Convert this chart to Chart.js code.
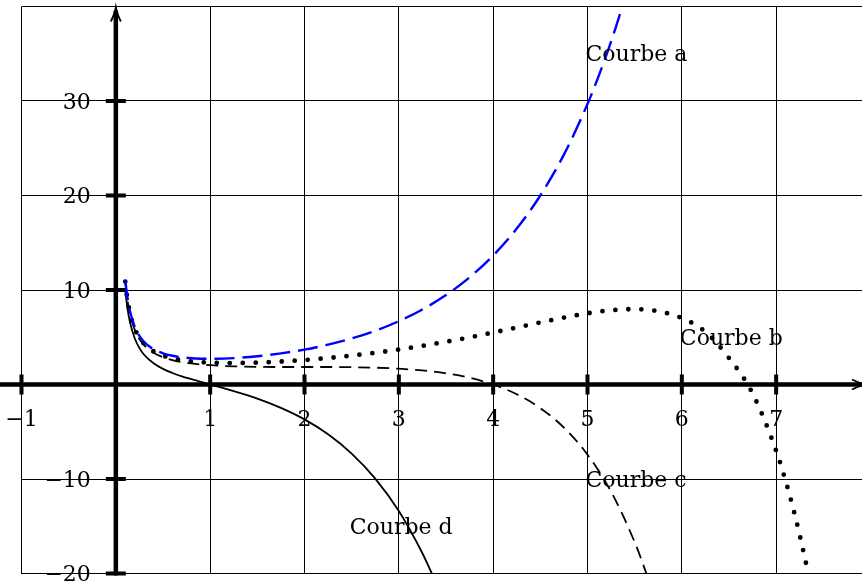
<!DOCTYPE html>
<html lang="fr">
<head>
<meta charset="utf-8">
<title>Courbes a, b, c, d</title>
<script src="https://cdn.jsdelivr.net/npm/chart.js@4.4.1/dist/chart.umd.min.js"></script>
<style>
    html, body { margin: 0; padding: 0; background: #fff; }
    canvas { display: block; }
</style>
</head>
<body>
<canvas id="courbes" width="862" height="581"></canvas>
<script>
// grille et graduations
const xTicks = [-1, 0, 1, 2, 3, 4, 5, 6, 7];
const yTicks = [-20, -10, 0, 10, 20, 30, 40];
const xLabels = [-1, 1, 2, 3, 4, 5, 6, 7];
const yLabels = [-20, -10, 10, 20, 30];

// Courbe a (bleue, tirets longs)
const xA = [0.1, 0.12, 0.15, 0.2, 0.25, 0.3, 0.4, 0.5, 0.6, 0.7, 0.8, 0.9, 1, 1.25, 1.5, 1.75, 2, 2.25, 2.5, 2.75, 3, 3.25, 3.5, 3.75, 4, 4.25, 4.5, 4.75, 5, 5.1, 5.2, 5.3, 5.36];
const courbeA = [11.05, 9.40, 7.75, 6.11, 5.14, 4.50, 3.73, 3.30, 3.04, 2.88, 2.78, 2.73, 2.72, 2.79, 2.99, 3.29, 3.69, 4.22, 4.87, 5.69, 6.70, 7.94, 9.46, 11.34, 13.65, 16.50, 20.00, 24.33, 29.68, 32.16, 34.86, 37.80, 39.69];

// Courbe b (pointillés)
const xB = [0.1, 0.12, 0.15, 0.2, 0.25, 0.3, 0.4, 0.5, 0.6, 0.7, 0.8, 0.9, 1, 1.25, 1.5, 1.75, 2, 2.25, 2.5, 2.75, 3, 3.25, 3.5, 3.75, 4, 4.25, 4.5, 4.75, 5, 5.25, 5.5, 5.75, 6, 6.25, 6.5, 6.75, 7, 7.1, 7.2, 7.3, 7.35];
const courbeB = [10.89, 9.23, 7.57, 5.93, 4.94, 4.30, 3.51, 3.05, 2.77, 2.58, 2.45, 2.37, 2.31, 2.27, 2.32, 2.43, 2.59, 2.80, 3.06, 3.35, 3.70, 4.09, 4.52, 4.99, 5.50, 6.03, 6.57, 7.08, 7.53, 7.86, 7.97, 7.75, 7.03, 5.57, 2.80, -0.95, -7.02, -10.19, -13.88, -18.16, -20.54];

// Courbe c (tirets)
const xC = [0.1, 0.12, 0.15, 0.2, 0.25, 0.3, 0.4, 0.5, 0.6, 0.7, 0.8, 0.9, 1, 1.25, 1.5, 1.75, 2, 2.25, 2.5, 2.75, 3, 3.25, 3.5, 3.75, 4, 4.25, 4.5, 4.75, 5, 5.25, 5.5, 5.6, 5.65];
const courbeC = [10.78, 9.11, 7.46, 5.80, 4.82, 4.16, 3.36, 2.89, 2.58, 2.37, 2.23, 2.12, 2.04, 1.92, 1.87, 1.85, 1.85, 1.85, 1.83, 1.78, 1.67, 1.49, 1.18, 0.71, 0, -1.03, -2.50, -4.56, -7.42, -11.34, -16.68, -19.32, -20.76];

// Courbe d (trait plein)
const xD = [0.1, 0.12, 0.15, 0.2, 0.25, 0.3, 0.4, 0.5, 0.6, 0.7, 0.8, 0.9, 1, 1.25, 1.5, 1.75, 2, 2.25, 2.5, 2.75, 3, 3.25, 3.35];
const courbeD = [9.95, 8.27, 6.58, 4.89, 3.85, 3.15, 2.24, 1.65, 1.22, 0.86, 0.56, 0.27, 0, -0.70, -1.49, -2.47, -3.69, -5.27, -7.31, -9.96, -13.39, -17.86, -20.00];

// noms des courbes et point d'accroche (repère du graphique)
const curveNames = ['Courbe a', 'Courbe b', 'Courbe c', 'Courbe d'];
const nameX = [5, 6, 5, 2.5];
const nameY = [35, 5, -10, -15];

const FONT = '22px "DejaVu Serif", "Liberation Serif", serif';

function toPoints(xs, ys) {
    return xs.map((v, i) => ({ x: v, y: ys[i] }));
}

function arrowHead(ctx, tipX, tipY, dirX, dirY) {
    // pointe fine façon TikZ "->"
    const len = 14, half = 5;
    const bx = tipX - dirX * len, by = tipY - dirY * len;
    const nx = -dirY, ny = dirX;
    ctx.beginPath();
    ctx.moveTo(bx + nx * half, by + ny * half);
    ctx.quadraticCurveTo(tipX - dirX * 6 + nx * 1, tipY - dirY * 6 + ny * 1, tipX, tipY);
    ctx.quadraticCurveTo(tipX - dirX * 6 - nx * 1, tipY - dirY * 6 - ny * 1, bx - nx * half, by - ny * half);
    ctx.stroke();
}

const repere = {
    id: 'repere',
    beforeDatasetsDraw(chart) {
        const { ctx, scales: { x, y } } = chart;
        const x0 = x.getPixelForValue(0);
        const y0 = y.getPixelForValue(0);
        ctx.save();
        ctx.strokeStyle = '#000';
        ctx.lineCap = 'butt';

        // axes
        ctx.lineWidth = 4.5;
        ctx.beginPath();
        ctx.moveTo(0, y0);
        ctx.lineTo(chart.width + 2, y0);
        ctx.moveTo(x0, y.getPixelForValue(-20) + 2);
        ctx.lineTo(x0, y.getPixelForValue(40) + 4);
        ctx.stroke();

        ctx.lineWidth = 1.8;
        arrowHead(ctx, x0, y.getPixelForValue(40) + 1, 0, -1);
        arrowHead(ctx, chart.width + 4, y0, 1, 0);

        // graduations
        ctx.lineWidth = 4;
        ctx.beginPath();
        xLabels.forEach(v => {
            const px = x.getPixelForValue(v);
            ctx.moveTo(px, y0 - 10);
            ctx.lineTo(px, y0 + 10);
        });
        yLabels.forEach(v => {
            const py = y.getPixelForValue(v);
            ctx.moveTo(x0 - 10, py);
            ctx.lineTo(x0 + 10, py);
        });
        ctx.stroke();
        ctx.restore();
    },
    afterDraw(chart) {
        const { ctx, scales: { x, y } } = chart;
        const x0 = x.getPixelForValue(0);
        const y0 = y.getPixelForValue(0);
        ctx.save();
        ctx.fillStyle = '#000';
        ctx.font = FONT;

        ctx.textAlign = 'center';
        ctx.textBaseline = 'middle';
        xLabels.forEach(v => {
            ctx.fillText(v < 0 ? '\u2212' + Math.abs(v) : String(v), x.getPixelForValue(v), y0 + 36);
        });

        ctx.textAlign = 'right';
        yLabels.forEach(v => {
            ctx.fillText(v < 0 ? '\u2212' + Math.abs(v) : String(v), x0 - 25, y.getPixelForValue(v) + 2);
        });

        ctx.textAlign = 'left';
        curveNames.forEach((name, i) => {
            ctx.fillText(name, x.getPixelForValue(nameX[i]) - 2, y.getPixelForValue(nameY[i]) + 2);
        });
        ctx.restore();
    }
};

const chart = new Chart(document.getElementById('courbes'), {
    type: 'scatter',
    data: {
        datasets: [
            {
                label: curveNames[0],
                data: toPoints(xA, courbeA),
                showLine: true,
                borderColor: '#0000ff',
                borderWidth: 2.4,
                borderDash: [20, 8],
                pointRadius: 0,
                cubicInterpolationMode: 'monotone'
            },
            {
                label: curveNames[1],
                data: toPoints(xB, courbeB),
                showLine: true,
                borderColor: '#000',
                borderWidth: 4.8,
                borderDash: [0, 13],
                borderCapStyle: 'round',
                pointRadius: 0,
                cubicInterpolationMode: 'monotone'
            },
            {
                label: curveNames[2],
                data: toPoints(xC, courbeC),
                showLine: true,
                borderColor: '#000',
                borderWidth: 1.8,
                borderDash: [12, 7],
                pointRadius: 0,
                cubicInterpolationMode: 'monotone'
            },
            {
                label: curveNames[3],
                data: toPoints(xD, courbeD),
                showLine: true,
                borderColor: '#000',
                borderWidth: 1.8,
                pointRadius: 0,
                cubicInterpolationMode: 'monotone'
            }
        ]
    },
    options: {
        responsive: false,
        animation: false,
        devicePixelRatio: 1,
        layout: { padding: { left: 21.5, top: 6.5, right: 0, bottom: 7.5 } },
        plugins: {
            legend: { display: false },
            tooltip: { enabled: false }
        },
        scales: {
            x: {
                type: 'linear',
                min: -1,
                max: 7.91,
                afterBuildTicks: scale => { scale.ticks = xTicks.map(v => ({ value: v })); },
                ticks: { display: false },
                grid: { color: '#000', lineWidth: 1, drawTicks: false },
                border: { display: false }
            },
            y: {
                type: 'linear',
                min: -20,
                max: 40,
                afterBuildTicks: scale => { scale.ticks = yTicks.map(v => ({ value: v })); },
                ticks: { display: false },
                grid: { color: '#000', lineWidth: 1, drawTicks: false },
                border: { display: false }
            }
        }
    },
    plugins: [repere]
});
</script>
</body>
</html>
